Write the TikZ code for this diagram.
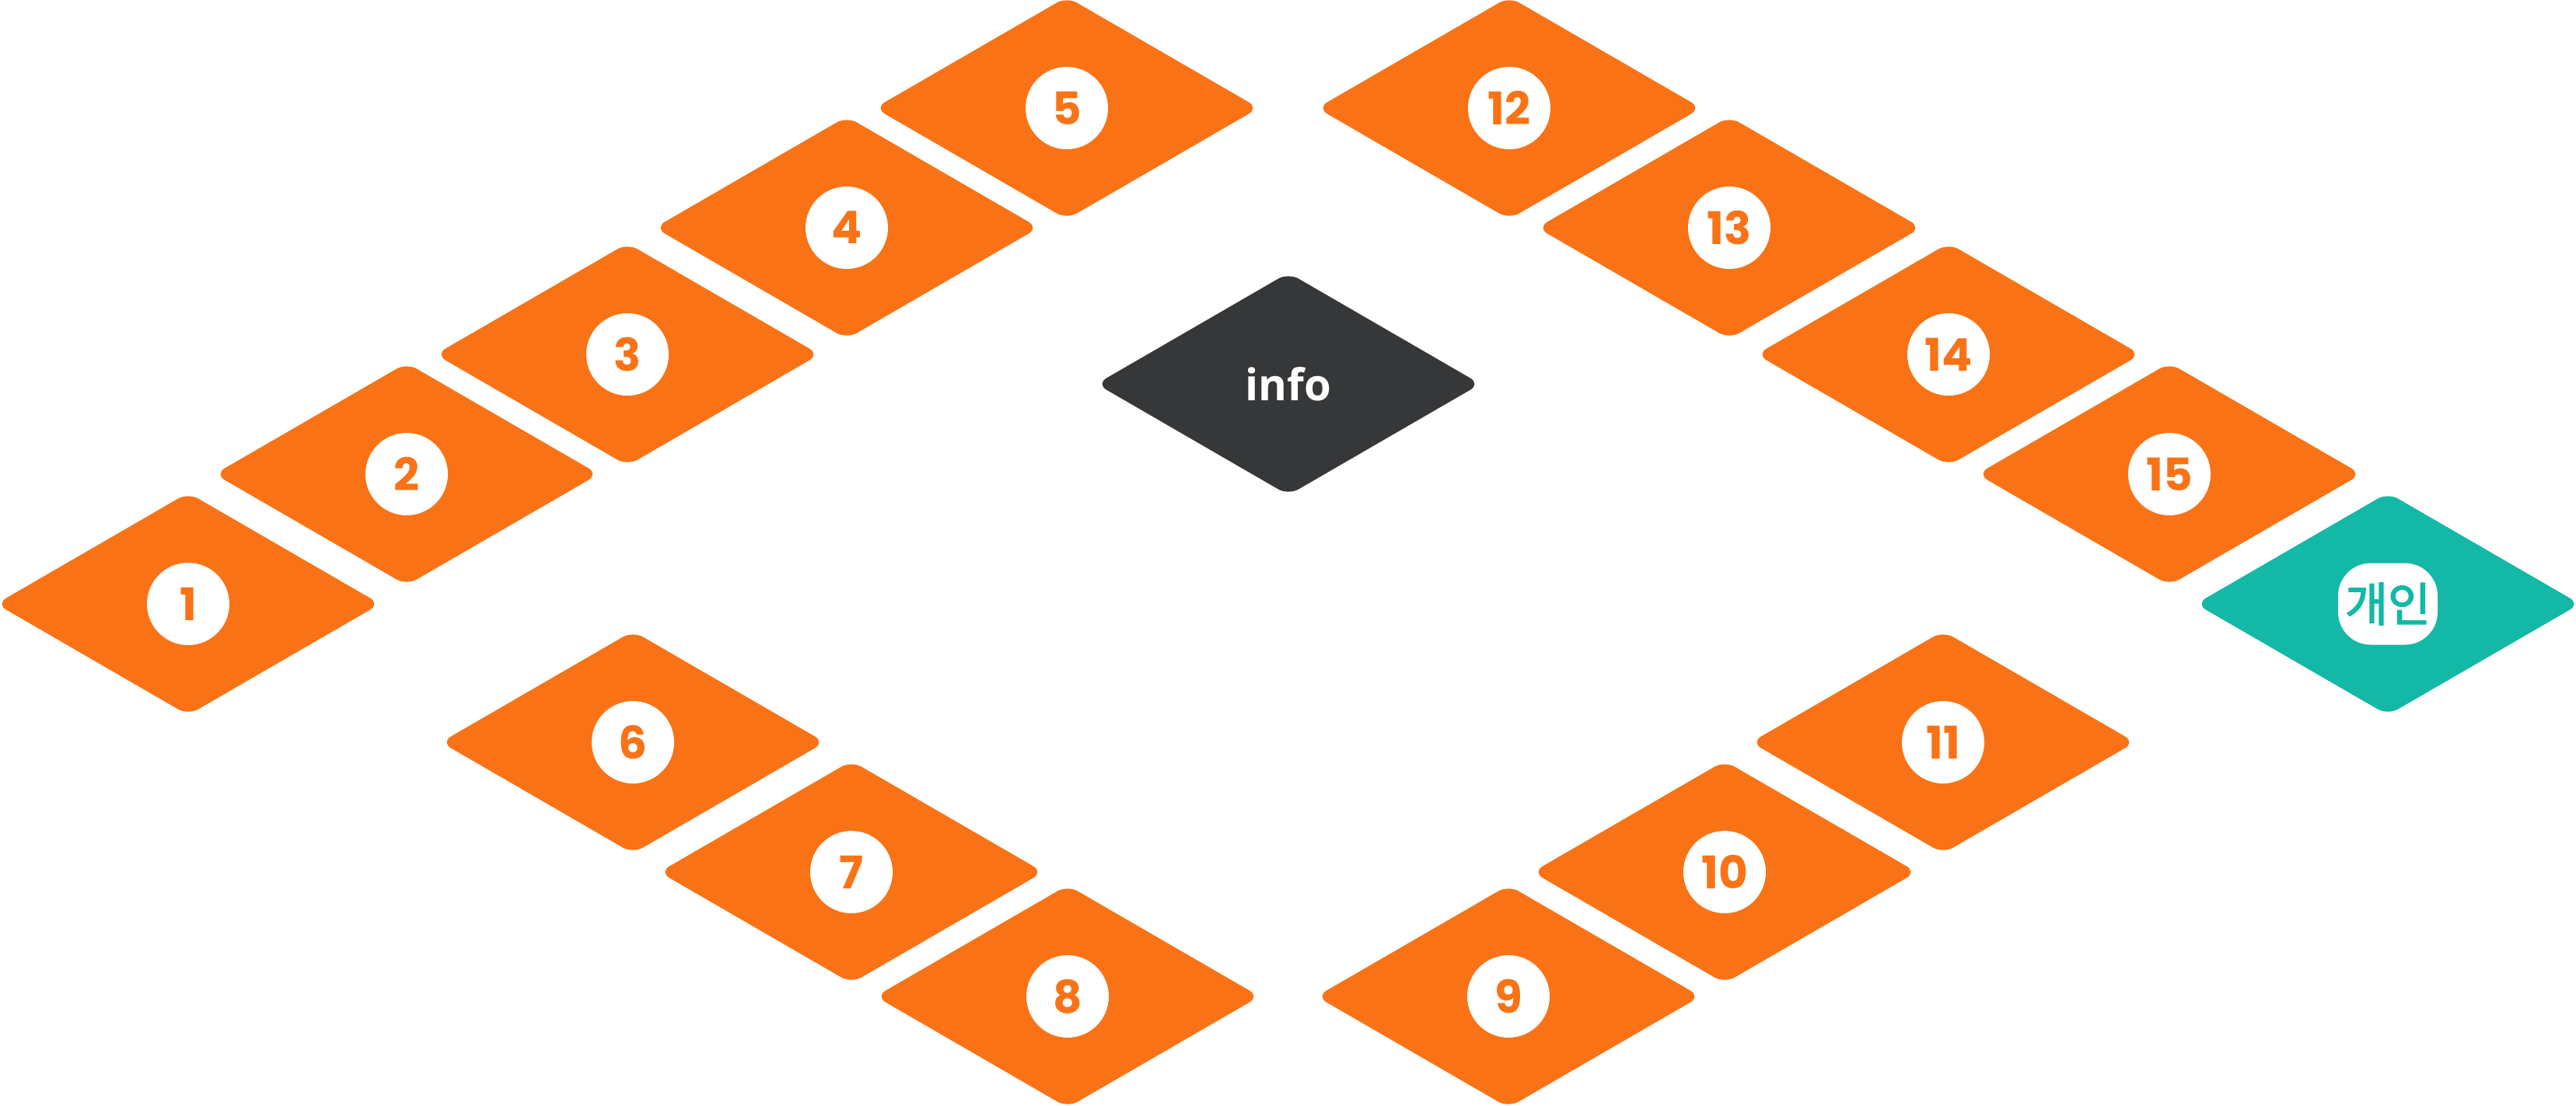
\documentclass[tikz,border=0pt]{standalone}
\usepackage{fontspec}
\usepackage{xcolor}
\usepackage{tikz}
\usetikzlibrary{shapes.geometric}
\newfontfamily\numfont{Poppins}
\newfontfamily\infofont{Open Sans}
\newfontfamily\kofont{Noto Sans CJK KR}[FakeBold=2.5]
\definecolor{tileorange}{HTML}{F97316}
\definecolor{tileteal}{HTML}{14B8A6}
\definecolor{tiledark}{HTML}{363739}

\begin{document}
\begin{tikzpicture}[
  tile/.style={diamond, rounded corners=0.15cm, minimum width=4.94cm,
               minimum height=2.86cm, inner sep=0pt, outer sep=0pt},
  badge/.style={circle, fill=white, minimum size=1.06cm, inner sep=0pt,
                text=tileorange, font=\numfont\bfseries\fontsize{16.5}{16.5}\selectfont}
]
\useasboundingbox (0,0) rectangle (33.13,-14.22);

% left arm
\node[tile, fill=tileorange] (t1) at (2.42,-7.77) {};
\node[tile, fill=tileorange] (t2) at (5.23,-6.10) {};
\node[tile, fill=tileorange] (t3) at (8.07,-4.56) {};
\node[tile, fill=tileorange] (t4) at (10.89,-2.93) {};
\node[tile, fill=tileorange] (t5) at (13.72,-1.39) {};
% bottom
\node[tile, fill=tileorange] (t6) at (8.14,-9.55) {};
\node[tile, fill=tileorange] (t7) at (10.95,-11.22) {};
\node[tile, fill=tileorange] (t8) at (13.73,-12.82) {};
\node[tile, fill=tileorange] (t9) at (19.40,-12.82) {};
\node[tile, fill=tileorange] (t10) at (22.18,-11.22) {};
\node[tile, fill=tileorange] (t11) at (24.99,-9.55) {};
% right arm
\node[tile, fill=tileorange] (t12) at (19.41,-1.39) {};
\node[tile, fill=tileorange] (t13) at (22.24,-2.93) {};
\node[tile, fill=tileorange] (t14) at (25.06,-4.56) {};
\node[tile, fill=tileorange] (t15) at (27.90,-6.10) {};
\node[tile, fill=tileteal]   (own) at (30.71,-7.77) {};
% centre
\node[tile, fill=tiledark, text=white, font=\infofont\bfseries\fontsize{16}{16}\selectfont]
  (info) at (16.57,-4.94) {info};

\node[badge] (b1) at (t1) {1};
\node[badge] (b2) at (t2) {2};
\node[badge] (b3) at (t3) {3};
\node[badge] (b4) at (t4) {4};
\node[badge] (b5) at (t5) {5};
\node[badge] (b6) at (t6) {6};
\node[badge] (b7) at (t7) {7};
\node[badge] (b8) at (t8) {8};
\node[badge] (b9) at (t9) {9};
\node[badge] (b10) at (t10) {10};
\node[badge] (b11) at (t11) {11};
\node[badge] (b12) at (t12) {12};
\node[badge] (b13) at (t13) {13};
\node[badge] (b14) at (t14) {14};
\node[badge] (b15) at (t15) {15};
\node[rectangle, rounded corners=0.42cm, fill=white, minimum width=1.28cm,
      minimum height=1.05cm, inner sep=0pt, text=tileteal,
      font=\kofont\fontsize{17}{17}\selectfont] (bown) at (own) {개인};
\end{tikzpicture}
\end{document}
